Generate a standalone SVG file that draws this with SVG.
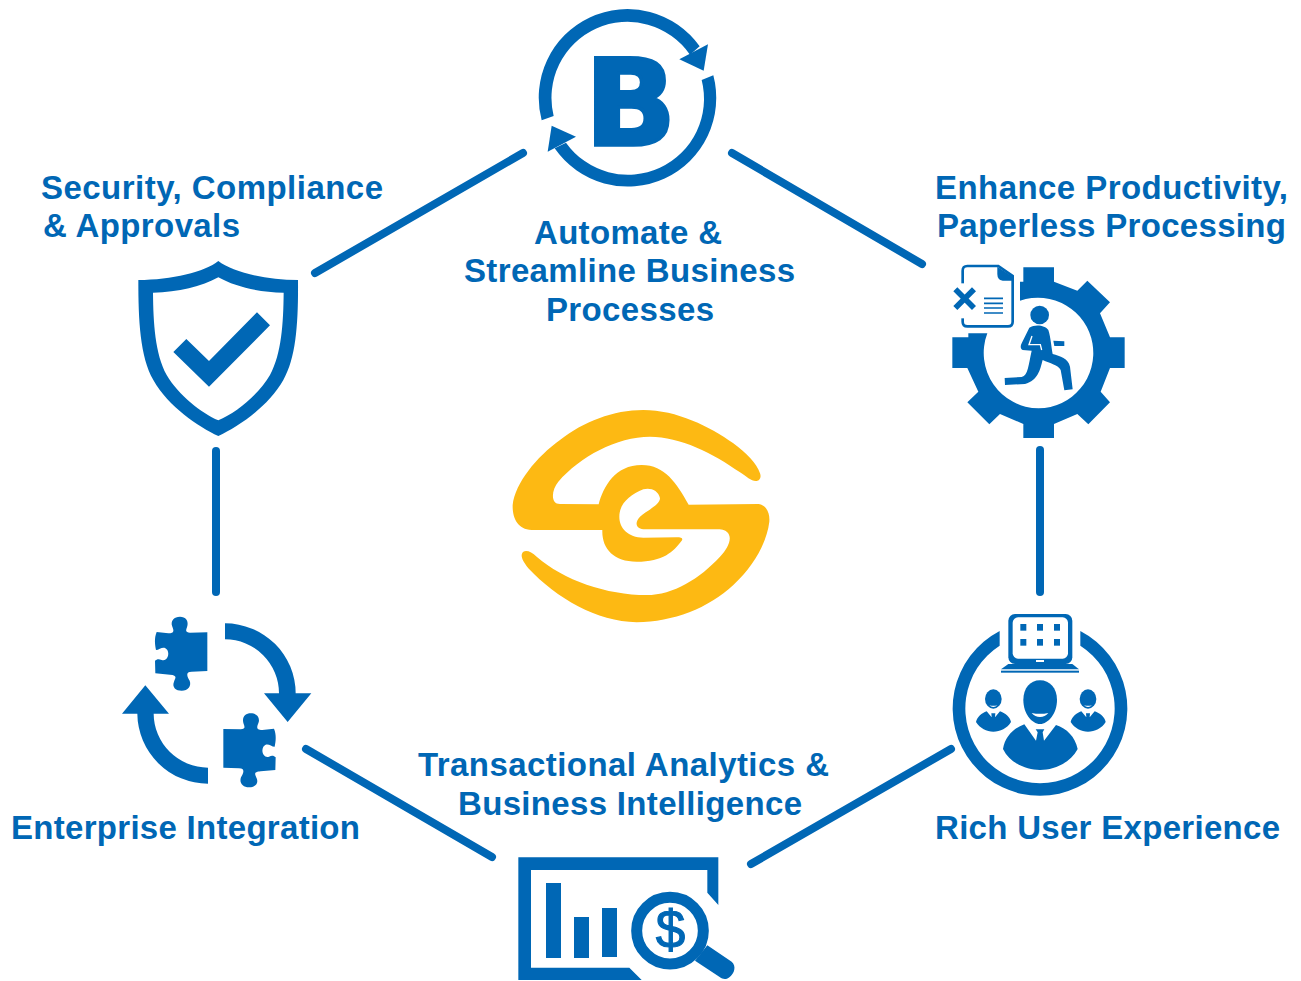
<svg xmlns="http://www.w3.org/2000/svg" width="1301" height="981" viewBox="0 0 1301 981">
<style>
.i{fill:#0067b5}
.w{fill:#fff}
.c{stroke:#0067b5;stroke-width:8;stroke-linecap:round;fill:none}
.t{font-family:"Liberation Sans",Arial,sans-serif;font-weight:700;font-size:33px;fill:#0067b5}
.m{text-anchor:middle}
</style>
<rect width="1301" height="981" fill="#fff"/>
<g id="connectors">
<line class="c" x1="523" y1="153" x2="315" y2="273"/>
<line class="c" x1="732" y1="153" x2="922" y2="264"/>
<line class="c" x1="216" y1="451" x2="216" y2="592"/>
<line class="c" x1="1040" y1="450" x2="1040" y2="592"/>
<line class="c" x1="306" y1="749" x2="492" y2="857"/>
<line class="c" x1="951" y1="749" x2="751" y2="864"/>
</g>
<g id="logo" transform="translate(500 400) scale(.33333)">
<path fill="#fdb913" d="M770 243C755 245 740 230 720 217C640 160 540 110 450 110C350 110 240 170 175 245C155 268 150 312 180 312L296 313C310 260 345 195 425 195C495 195 530 250 566 314L775 312C800 315 810 340 808 365C800 430 760 500 700 555C625 625 520 665 410 667C290 665 170 595 85 505C65 480 60 465 70 455C80 450 95 455 110 470C190 540 320 585 440 585C520 585 600 535 660 470C685 445 700 410 680 395C670 388 660 388 640 388L430 388C405 385 405 365 420 350C440 332 480 315 480 295C475 270 450 262 430 268C390 285 358 310 358 350C358 385 385 412 430 413L530 412C545 412 550 415 545 422C520 455 490 485 410 485C340 485 305 445 307 390L95 390C50 388 37 350 38 315C45 250 110 170 180 120C250 65 340 30 430 30C530 30 630 80 700 130C740 160 770 190 780 220C785 232 778 243 770 243Z"/>
</g>
<g id="node-automate">
<g transform="translate(520 0) scale(.33333)">
<path class="i" d="M65 361A266 266 0 0 1 539 139L510 164A228 228 0 0 0 101 348Z"/>
<path class="i" d="M564 133L551 212L478 178Z"/>
<path class="i" d="M580 226A266 266 0 0 1 104 445L138 428A228 228 0 0 0 545 240Z"/>
<path class="i" d="M95 377L168 410L83 455Z"/>
</g>
<text x="630.5" y="145" text-anchor="middle" font-family="DejaVu Sans,sans-serif" font-weight="700" font-size="120" stroke="#0067b5" stroke-width="3.5" class="i">B</text>
<text class="t m" x="628" y="244" textLength="188">Automate &amp;</text>
<text class="t m" x="629.5" y="282" textLength="331">Streamline Business</text>
<text class="t m" x="630" y="321" textLength="168">Processes</text>
</g>
<g id="node-productivity">
<g transform="translate(930 250) scale(.33333)">
<path class="i" d="M270 95L280 95L280 52L372 52L372 95L442 122L472 92L540 157L510 190L540 262L584 262L584 354L540 354L512 425L540 457L475 523L442 492L372 522L372 564L280 564L280 522L210 492L178 523L112 457L145 425L112 354L67 354L67 262L115 262L115 250L172 250A166 166 0 0 0 326 475A166 166 0 1 0 270 152Z"/>
<circle class="i" cx="329" cy="195" r="28"/>
<path class="i" d="M298 233C315 222 345 225 355 240C362 260 365 300 368 312C390 318 415 325 420 350L428 418L403 421L392 360C385 345 360 340 338 330C330 360 325 390 285 402L225 405L224 384L275 381C295 375 295 345 305 302L278 300C272 298 270 290 275 280Z"/>
<path fill="none" stroke="#fff" stroke-width="4" d="M306 258L297 284L331 284L335 300"/>
<path class="i" d="M370 272L403 274L403 288L373 288Z"/>
<path class="w" stroke="#0067b5" stroke-width="8" d="M112 48L205 48L248 78L248 215Q248 229 234 229L112 229Q98 229 98 215L98 62Q98 48 112 48Z"/>
<path class="i" d="M202 50L248 80L248 92L218 92Q202 90 202 72Z"/>
<rect class="w" x="85" y="100" width="22" height="105"/>
<path fill="none" stroke="#0067b5" stroke-width="17" d="M76 118L132 174M132 118L76 174"/>
<path fill="none" stroke="#0067b5" stroke-width="5" d="M162 145H219M162 160H219M162 174H219M162 189H219"/>
</g>
<text class="t" x="935" y="199" textLength="353">Enhance Productivity,</text>
<text class="t" x="937" y="237" textLength="349">Paperless Processing</text>
</g>
<g id="node-experience">
<g transform="translate(930 600) scale(.33333)">
<path class="i" d="M209 93A262 262 0 1 0 451 93L451 137A224 224 0 1 1 209 137Z"/>
<rect class="i" x="235" y="42" width="192" height="150" rx="20"/>
<rect class="w" x="248" y="52" width="166" height="124" rx="16"/>
<g class="i">
<rect x="271" y="72" width="18" height="20"/><rect x="321" y="72" width="18" height="20"/><rect x="372" y="72" width="18" height="20"/>
<rect x="271" y="117" width="18" height="20"/><rect x="321" y="117" width="18" height="20"/><rect x="372" y="117" width="18" height="20"/>
</g>
<path class="i" d="M235 192L427 192L447 208L213 208Z"/>
<rect class="i" x="213" y="212" width="234" height="6"/>
<rect class="w" x="318" y="180" width="24" height="6"/>
<path class="i" d="M330 241C360 241 381 265 381 300C381 340 355 372 330 372C305 372 280 340 280 300C280 265 300 241 330 241Z"/>
<path class="w" d="M305 339Q330 344 355 339Q345 351 330 351Q315 351 305 339Z"/>
<path class="i" d="M219 447C225 410 250 385 283 373L318 422L323 397L317 388L343 388L338 397L342 422L378 375C410 385 435 410 443 447C420 490 370 510 330 510C290 510 240 490 219 447Z"/>
<g id="small-left">
<ellipse class="i" cx="190" cy="297" rx="25" ry="29"/>
<path class="w" d="M178 316Q190 319 202 316Q197 321 190 321Q183 321 178 316Z"/>
<path class="i" d="M138 366C142 350 155 340 170 334L185 352L184 340L196 340L195 352L210 334C225 340 240 350 243 366C232 385 210 395 190 395C170 395 150 385 138 366Z"/>
</g>
<g id="small-right">
<ellipse class="i" cx="474" cy="297" rx="25" ry="29"/>
<path class="w" d="M462 316Q474 319 486 316Q481 321 474 321Q467 321 462 316Z"/>
<path class="i" d="M422 366C426 350 439 340 454 334L469 352L468 340L480 340L479 352L494 334C509 340 524 350 527 366C516 385 494 395 474 395C454 395 434 385 422 366Z"/>
</g>
</g>
<text class="t" x="935" y="839" textLength="345">Rich User Experience</text>
</g>
<g id="node-analytics">
<g transform="translate(500 840) scale(.33333)">
<path class="i" d="M55 52L655 52L655 195L622 158L622 90L93 90L93 383L388 383L425 420L55 420Z"/>
<rect class="i" x="138" y="129" width="45" height="225"/>
<rect class="i" x="222" y="231" width="45" height="123"/>
<rect class="i" x="306" y="204" width="45" height="147"/>
<circle cx="510" cy="272" r="100" fill="none" stroke="#0067b5" stroke-width="33"/>
<path class="i" d="M622 316L695 365C710 378 703 400 690 410C680 420 668 418 660 412L585 362Z"/>
</g>
<text x="670.5" y="948" text-anchor="middle" font-family="Liberation Sans,sans-serif" font-size="53" stroke="#0067b5" stroke-width="1.2" class="i">$</text>
<text class="t m" x="623.5" y="776" textLength="411">Transactional Analytics &amp;</text>
<text class="t m" x="630" y="815" textLength="344">Business Intelligence</text>
</g>
<g id="node-integration">
<g transform="translate(110 600) scale(.33333)">
<path class="i" d="M292 97L240 98C225 98 228 90 231 82C238 62 226 50 210 50C193 50 180 62 187 80C191 90 195 100 175 100L140 96C132 115 135 135 138 150C150 150 160 135 172 150C180 165 170 185 155 180C145 175 140 178 135 182L136 220L180 224C205 226 195 235 192 245C185 262 198 272 215 272C234 272 245 258 239 242C232 230 225 215 245 215L292 213Z"/>
<path class="i" transform="translate(632 290) scale(-1 1)" d="M292 97L240 98C225 98 228 90 231 82C238 62 226 50 210 50C193 50 180 62 187 80C191 90 195 100 175 100L140 96C132 115 135 135 138 150C150 150 160 135 172 150C180 165 170 185 155 180C145 175 140 178 135 182L136 220L180 224C205 226 195 235 192 245C185 262 198 272 215 272C234 272 245 258 239 242C232 230 225 215 245 215L292 213Z"/>
<path class="i" d="M345 70A212 210 0 0 1 557 280L604 280L533 366L462 280L507 280A162 162 0 0 0 345 118Z"/>
<path class="i" d="M294 551A212 212 0 0 1 82 341L36 341L106 256L177 341L131 341A163 163 0 0 0 294 503Z"/>
</g>
<text class="t" x="11" y="839" textLength="349">Enterprise Integration</text>
</g>
<g id="node-security">
<g transform="translate(125 250) scale(.33333)">
<path class="i" fill-rule="evenodd" d="M280 33C240 65 140 90 40 90C40 210 45 320 85 390C130 470 220 530 280 558C340 530 430 470 475 390C515 320 520 210 519 90C420 90 320 65 280 33ZM280 82C230 110 160 127 84 128C85 220 90 310 125 375C160 435 230 490 280 511C330 490 400 435 435 375C470 310 475 220 476 128C400 127 330 110 280 82Z"/>
<path class="i" d="M145 306L184 267L252 333L396 187L435 226L252 410Z"/>
</g>
<text class="t" x="41" y="199" textLength="342">Security, Compliance</text>
<text class="t" x="43" y="237" textLength="197">&amp; Approvals</text>
</g>
</svg>
